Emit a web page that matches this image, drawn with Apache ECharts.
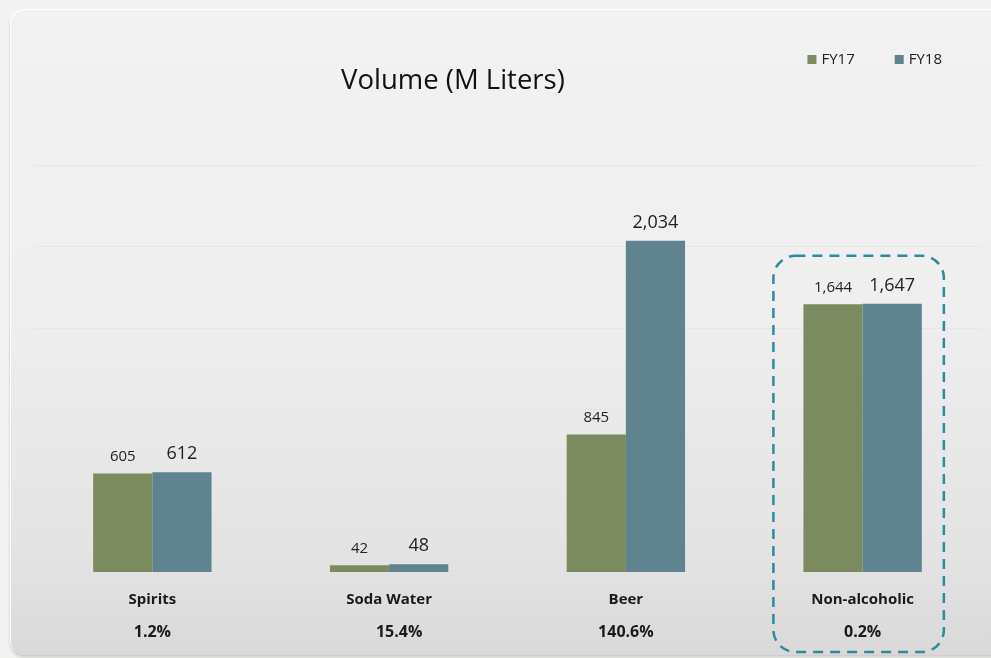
<!DOCTYPE html>
<html>
<head>
<meta charset="utf-8">
<title>Volume (M Liters)</title>
<script src="https://cdn.jsdelivr.net/npm/echarts@6/dist/echarts.min.js"></script>
<style>
  html, body { margin: 0; padding: 0; background: #f3f4f2; overflow: hidden; }
  #panel {
    position: absolute; left: 10px; top: 9px; width: 1000px; height: 646px;
    border-radius: 14px;
    background: linear-gradient(to bottom, #f2f2f2 0%, #efefef 45%, #e3e3e3 85%, #d9d9d9 100%);
    box-shadow: 0 2px 3px rgba(0,0,0,0.18), inset 1px 1px 0 #ffffff;
  }
  #chart { position: absolute; left: 0; top: 0; width: 991px; height: 658px; }
</style>
</head>
<body>
<div id="panel"></div>
<div id="chart"></div>
<script>
// Volume by segment, million liters
const categories = ['Spirits', 'Soda Water', 'Beer', 'Non-alcoholic'];
const growth = ['1.2%', '15.4%', '140.6%', '0.2%'];
const fy17 = [605, 42, 845, 1644];
const fy18 = [612, 48, 2034, 1647];
const seriesNames = ['FY17', 'FY18'];
const yTicks = { min: 0, max: 2500, interval: 500 };

const FONT = '"Open Sans", "Noto Sans", sans-serif';
const GREEN = '#7b8a5f';
const TEAL = '#5f838f';

const chart = echarts.init(document.getElementById('chart'), null, { renderer: 'canvas' });

const fmt = v => v.toLocaleString('en-US');

const option = {
  backgroundColor: 'transparent',
  animation: false,
  textStyle: { fontFamily: FONT },
  legend: {
    data: seriesNames,
    right: 44,
    top: 47,
    itemWidth: 9,
    itemHeight: 9,
    itemGap: 40,
    icon: 'rect',
    textStyle: { fontFamily: FONT, fontSize: 15, color: '#222' }
  },
  grid: { left: 34, right: 10, top: 165, bottom: 86 },
  xAxis: {
    type: 'category',
    data: categories,
    axisTick: { show: false },
    axisLine: { show: true, lineStyle: { color: '#e4e4e4', width: 1 } },
    axisLabel: {
      margin: 12,
      interval: 0,
      // the soda-water growth figure sits a little right of its category
      formatter: (val, idx) => '{n|' + val + '}\n{' + (idx === 1 ? 'q' : 'p') + '|' + growth[idx] + '}',
      rich: {
        n: { fontFamily: FONT, fontSize: 15, fontWeight: 'bold', color: '#1a1a1a', lineHeight: 32 },
        p: { fontFamily: FONT, fontSize: 16, fontWeight: 'bold', color: '#1a1a1a', lineHeight: 32 },
        q: { fontFamily: FONT, fontSize: 16, fontWeight: 'bold', color: '#1a1a1a', lineHeight: 32, padding: [0, 0, 0, 20] }
      }
    }
  },
  yAxis: {
    type: 'value',
    min: yTicks.min,
    max: yTicks.max,
    interval: yTicks.interval,
    axisLabel: { show: false },
    axisLine: { show: false },
    axisTick: { show: false },
    splitLine: { lineStyle: { color: '#e6e6e6', width: 1 } }
  },
  series: [
    {
      name: seriesNames[0],
      type: 'bar',
      data: fy17,
      barGap: '0%',
      barCategoryGap: '50%',
      itemStyle: { color: GREEN },
      label: {
        show: true, position: 'top', distance: 9,
        formatter: p => fmt(p.value),
        fontFamily: FONT, fontSize: 15, color: '#222'
      }
    },
    {
      name: seriesNames[1],
      type: 'bar',
      data: fy18,
      barGap: '0%',
      barCategoryGap: '50%',
      itemStyle: { color: TEAL },
      label: {
        show: true, position: 'top', distance: 9,
        formatter: p => fmt(p.value),
        fontFamily: FONT, fontSize: 18, color: '#222'
      }
    }
  ]
};

chart.setOption(option);

// Title and the dashed highlight around the last category
function drawOverlays() {
  const last = categories.length - 1;
  const center = chart.convertToPixel({ xAxisIndex: 0 }, categories[last]);
  const step = chart.convertToPixel({ xAxisIndex: 0 }, categories[1]) -
               chart.convertToPixel({ xAxisIndex: 0 }, categories[0]);
  const topVal = Math.max(fy17[last], fy18[last]);
  const topY = chart.convertToPixel({ yAxisIndex: 0 }, topVal) - 48;
  const baseY = chart.convertToPixel({ yAxisIndex: 0 }, 0);
  const halfW = step * 0.36;
  const boxCx = center - 4;
  const bottomY = baseY + 80;

  chart.setOption({
    graphic: [
      {
        type: 'text',
        left: 341,
        top: 67,
        style: {
          text: 'Volume (M Liters)',
          fontFamily: FONT,
          fontSize: 27.5,
          fill: '#111'
        }
      },
      {
        type: 'rect',
        shape: { x: boxCx - halfW, y: topY, width: halfW * 2, height: bottomY - topY, r: 22 },
        style: { fill: 'none', stroke: '#2b8d9c', lineWidth: 2.5, lineDash: [10, 7] },
        silent: true,
        z: 10
      }
    ]
  });
}
drawOverlays();
</script>
</body>
</html>
